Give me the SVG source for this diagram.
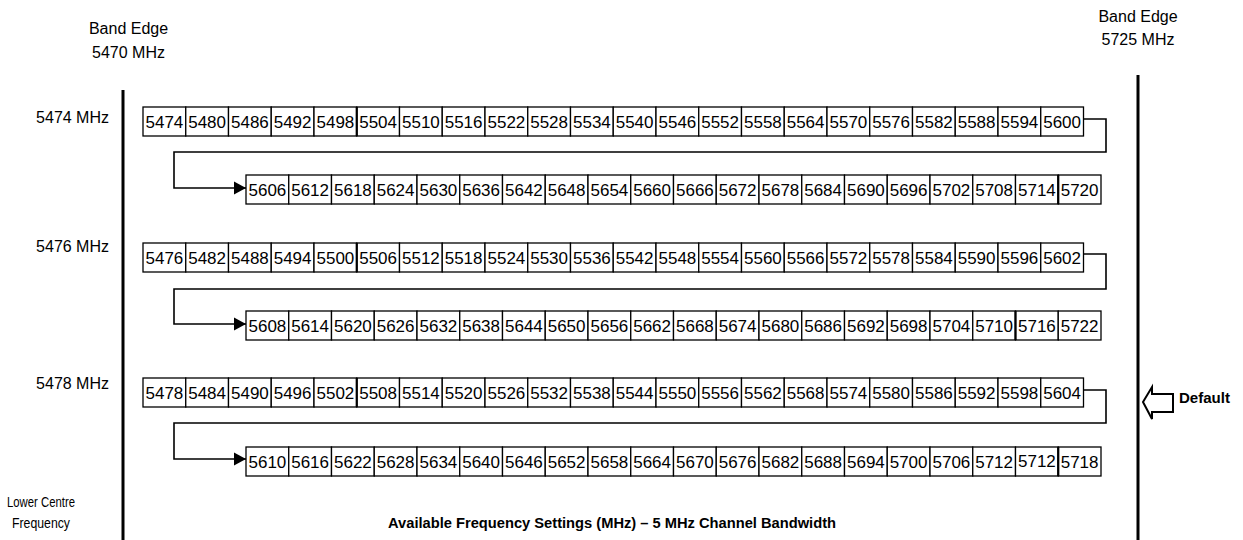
<svg xmlns="http://www.w3.org/2000/svg" width="1243" height="540" viewBox="0 0 1243 540">
<style>
text{font-family:"Liberation Sans",Arial,sans-serif;fill:#000}
.lbl{font-size:16px;text-anchor:middle}
.side{font-size:16px;text-anchor:end}
.c rect{fill:#fff;stroke:#000;stroke-width:1.3}
.c text{font-size:17px;text-anchor:middle}
.seam{stroke:#000;stroke-width:2.2}
.edge{stroke:#000;stroke-width:3}
.conn{fill:none;stroke:#000;stroke-width:1.6}
.bold{font-weight:bold}
</style>
<defs>
<marker id="ah" markerUnits="userSpaceOnUse" markerWidth="13" markerHeight="14" refX="12" refY="6.5" orient="auto" viewBox="0 0 13 13">
<path d="M0,0 L12,6.5 L0,13 z" fill="#000"/>
</marker>
</defs>
<rect width="1243" height="540" fill="#fff"/>

<g id="band-edges">
<line class="edge" x1="123" y1="90" x2="123" y2="540"/>
<line class="edge" x1="1138" y1="75" x2="1138" y2="540"/>
<text class="lbl" x="128.5" y="34">Band Edge</text>
<text class="lbl" x="128.5" y="58">5470 MHz</text>
<text class="lbl" x="1138" y="22">Band Edge</text>
<text class="lbl" x="1138" y="45">5725 MHz</text>
</g>

<g id="labels">
<text class="side" x="109" y="123">5474 MHz</text>
<text class="side" x="109" y="252">5476 MHz</text>
<text class="side" x="109" y="389">5478 MHz</text>
<text x="7" y="507" font-size="15" textLength="68" lengthAdjust="spacingAndGlyphs">Lower Centre</text>
<text x="12" y="528" font-size="15" textLength="58" lengthAdjust="spacingAndGlyphs">Frequency</text>
<text class="bold" x="388" y="528" font-size="14" textLength="448" lengthAdjust="spacingAndGlyphs">Available Frequency Settings (MHz) – 5 MHz Channel Bandwidth</text>
</g>

<g id="row-5474" class="c" transform="translate(143,107)">
<rect x="0" width="42.75" height="29"/><text x="21.4" y="21">5474</text>
<rect x="42.75" width="42.75" height="29"/><text x="64.1" y="21">5480</text>
<rect x="85.5" width="42.75" height="29"/><text x="106.9" y="21">5486</text>
<rect x="128.25" width="42.75" height="29"/><text x="149.6" y="21">5492</text>
<rect x="171" width="42.75" height="29"/><text x="192.4" y="21">5498</text>
<rect x="213.75" width="42.75" height="29"/><text x="235.1" y="21">5504</text>
<rect x="256.5" width="42.75" height="29"/><text x="277.9" y="21">5510</text>
<rect x="299.25" width="42.75" height="29"/><text x="320.6" y="21">5516</text>
<rect x="342" width="42.75" height="29"/><text x="363.4" y="21">5522</text>
<rect x="384.75" width="42.75" height="29"/><text x="406.1" y="21">5528</text>
<rect x="427.5" width="42.75" height="29"/><text x="448.9" y="21">5534</text>
<rect x="470.25" width="42.75" height="29"/><text x="491.6" y="21">5540</text>
<rect x="513" width="42.75" height="29"/><text x="534.4" y="21">5546</text>
<rect x="555.75" width="42.75" height="29"/><text x="577.1" y="21">5552</text>
<rect x="598.5" width="42.75" height="29"/><text x="619.9" y="21">5558</text>
<rect x="641.25" width="42.75" height="29"/><text x="662.6" y="21">5564</text>
<rect x="684" width="42.75" height="29"/><text x="705.4" y="21">5570</text>
<rect x="726.75" width="42.75" height="29"/><text x="748.1" y="21">5576</text>
<rect x="769.5" width="42.75" height="29"/><text x="790.9" y="21">5582</text>
<rect x="812.25" width="42.75" height="29"/><text x="833.6" y="21">5588</text>
<rect x="855" width="42.75" height="29"/><text x="876.4" y="21">5594</text>
<rect x="897.75" width="42.75" height="29"/><text x="919.1" y="21">5600</text>
<line class="seam" x1="213.75" y1="0" x2="213.75" y2="29"/>
</g>

<g id="row-5606" class="c" transform="translate(246,175)">
<rect x="0" width="42.75" height="29"/><text x="21.4" y="21">5606</text>
<rect x="42.75" width="42.75" height="29"/><text x="64.1" y="21">5612</text>
<rect x="85.5" width="42.75" height="29"/><text x="106.9" y="21">5618</text>
<rect x="128.25" width="42.75" height="29"/><text x="149.6" y="21">5624</text>
<rect x="171" width="42.75" height="29"/><text x="192.4" y="21">5630</text>
<rect x="213.75" width="42.75" height="29"/><text x="235.1" y="21">5636</text>
<rect x="256.5" width="42.75" height="29"/><text x="277.9" y="21">5642</text>
<rect x="299.25" width="42.75" height="29"/><text x="320.6" y="21">5648</text>
<rect x="342" width="42.75" height="29"/><text x="363.4" y="21">5654</text>
<rect x="384.75" width="42.75" height="29"/><text x="406.1" y="21">5660</text>
<rect x="427.5" width="42.75" height="29"/><text x="448.9" y="21">5666</text>
<rect x="470.25" width="42.75" height="29"/><text x="491.6" y="21">5672</text>
<rect x="513" width="42.75" height="29"/><text x="534.4" y="21">5678</text>
<rect x="555.75" width="42.75" height="29"/><text x="577.1" y="21">5684</text>
<rect x="598.5" width="42.75" height="29"/><text x="619.9" y="21">5690</text>
<rect x="641.25" width="42.75" height="29"/><text x="662.6" y="21">5696</text>
<rect x="684" width="42.75" height="29"/><text x="705.4" y="21">5702</text>
<rect x="726.75" width="42.75" height="29"/><text x="748.1" y="21">5708</text>
<rect x="769.5" width="42.75" height="29"/><text x="790.9" y="21">5714</text>
<rect x="812.25" width="42.75" height="29"/><text x="833.6" y="21">5720</text>
<line class="seam" x1="812.25" y1="0" x2="812.25" y2="29"/>
</g>

<g id="row-5476" class="c" transform="translate(143,243)">
<rect x="0" width="42.75" height="29"/><text x="21.4" y="21">5476</text>
<rect x="42.75" width="42.75" height="29"/><text x="64.1" y="21">5482</text>
<rect x="85.5" width="42.75" height="29"/><text x="106.9" y="21">5488</text>
<rect x="128.25" width="42.75" height="29"/><text x="149.6" y="21">5494</text>
<rect x="171" width="42.75" height="29"/><text x="192.4" y="21">5500</text>
<rect x="213.75" width="42.75" height="29"/><text x="235.1" y="21">5506</text>
<rect x="256.5" width="42.75" height="29"/><text x="277.9" y="21">5512</text>
<rect x="299.25" width="42.75" height="29"/><text x="320.6" y="21">5518</text>
<rect x="342" width="42.75" height="29"/><text x="363.4" y="21">5524</text>
<rect x="384.75" width="42.75" height="29"/><text x="406.1" y="21">5530</text>
<rect x="427.5" width="42.75" height="29"/><text x="448.9" y="21">5536</text>
<rect x="470.25" width="42.75" height="29"/><text x="491.6" y="21">5542</text>
<rect x="513" width="42.75" height="29"/><text x="534.4" y="21">5548</text>
<rect x="555.75" width="42.75" height="29"/><text x="577.1" y="21">5554</text>
<rect x="598.5" width="42.75" height="29"/><text x="619.9" y="21">5560</text>
<rect x="641.25" width="42.75" height="29"/><text x="662.6" y="21">5566</text>
<rect x="684" width="42.75" height="29"/><text x="705.4" y="21">5572</text>
<rect x="726.75" width="42.75" height="29"/><text x="748.1" y="21">5578</text>
<rect x="769.5" width="42.75" height="29"/><text x="790.9" y="21">5584</text>
<rect x="812.25" width="42.75" height="29"/><text x="833.6" y="21">5590</text>
<rect x="855" width="42.75" height="29"/><text x="876.4" y="21">5596</text>
<rect x="897.75" width="42.75" height="29"/><text x="919.1" y="21">5602</text>
<line class="seam" x1="213.75" y1="0" x2="213.75" y2="29"/>
</g>

<g id="row-5608" class="c" transform="translate(246,311)">
<rect x="0" width="42.75" height="29"/><text x="21.4" y="21">5608</text>
<rect x="42.75" width="42.75" height="29"/><text x="64.1" y="21">5614</text>
<rect x="85.5" width="42.75" height="29"/><text x="106.9" y="21">5620</text>
<rect x="128.25" width="42.75" height="29"/><text x="149.6" y="21">5626</text>
<rect x="171" width="42.75" height="29"/><text x="192.4" y="21">5632</text>
<rect x="213.75" width="42.75" height="29"/><text x="235.1" y="21">5638</text>
<rect x="256.5" width="42.75" height="29"/><text x="277.9" y="21">5644</text>
<rect x="299.25" width="42.75" height="29"/><text x="320.6" y="21">5650</text>
<rect x="342" width="42.75" height="29"/><text x="363.4" y="21">5656</text>
<rect x="384.75" width="42.75" height="29"/><text x="406.1" y="21">5662</text>
<rect x="427.5" width="42.75" height="29"/><text x="448.9" y="21">5668</text>
<rect x="470.25" width="42.75" height="29"/><text x="491.6" y="21">5674</text>
<rect x="513" width="42.75" height="29"/><text x="534.4" y="21">5680</text>
<rect x="555.75" width="42.75" height="29"/><text x="577.1" y="21">5686</text>
<rect x="598.5" width="42.75" height="29"/><text x="619.9" y="21">5692</text>
<rect x="641.25" width="42.75" height="29"/><text x="662.6" y="21">5698</text>
<rect x="684" width="42.75" height="29"/><text x="705.4" y="21">5704</text>
<rect x="726.75" width="42.75" height="29"/><text x="748.1" y="21">5710</text>
<rect x="769.5" width="42.75" height="29"/><text x="790.9" y="21">5716</text>
<rect x="812.25" width="42.75" height="29"/><text x="833.6" y="21">5722</text>
<line class="seam" x1="769.5" y1="0" x2="769.5" y2="29"/>
</g>

<g id="row-5478" class="c" transform="translate(143,378)">
<rect x="0" width="42.75" height="29"/><text x="21.4" y="21">5478</text>
<rect x="42.75" width="42.75" height="29"/><text x="64.1" y="21">5484</text>
<rect x="85.5" width="42.75" height="29"/><text x="106.9" y="21">5490</text>
<rect x="128.25" width="42.75" height="29"/><text x="149.6" y="21">5496</text>
<rect x="171" width="42.75" height="29"/><text x="192.4" y="21">5502</text>
<rect x="213.75" width="42.75" height="29"/><text x="235.1" y="21">5508</text>
<rect x="256.5" width="42.75" height="29"/><text x="277.9" y="21">5514</text>
<rect x="299.25" width="42.75" height="29"/><text x="320.6" y="21">5520</text>
<rect x="342" width="42.75" height="29"/><text x="363.4" y="21">5526</text>
<rect x="384.75" width="42.75" height="29"/><text x="406.1" y="21">5532</text>
<rect x="427.5" width="42.75" height="29"/><text x="448.9" y="21">5538</text>
<rect x="470.25" width="42.75" height="29"/><text x="491.6" y="21">5544</text>
<rect x="513" width="42.75" height="29"/><text x="534.4" y="21">5550</text>
<rect x="555.75" width="42.75" height="29"/><text x="577.1" y="21">5556</text>
<rect x="598.5" width="42.75" height="29"/><text x="619.9" y="21">5562</text>
<rect x="641.25" width="42.75" height="29"/><text x="662.6" y="21">5568</text>
<rect x="684" width="42.75" height="29"/><text x="705.4" y="21">5574</text>
<rect x="726.75" width="42.75" height="29"/><text x="748.1" y="21">5580</text>
<rect x="769.5" width="42.75" height="29"/><text x="790.9" y="21">5586</text>
<rect x="812.25" width="42.75" height="29"/><text x="833.6" y="21">5592</text>
<rect x="855" width="42.75" height="29"/><text x="876.4" y="21">5598</text>
<rect x="897.75" width="42.75" height="29"/><text x="919.1" y="21">5604</text>
<line class="seam" x1="213.75" y1="0" x2="213.75" y2="29"/>
</g>

<g id="row-5610" class="c" transform="translate(246,447)">
<rect x="0" width="42.75" height="29"/><text x="21.4" y="21">5610</text>
<rect x="42.75" width="42.75" height="29"/><text x="64.1" y="21">5616</text>
<rect x="85.5" width="42.75" height="29"/><text x="106.9" y="21">5622</text>
<rect x="128.25" width="42.75" height="29"/><text x="149.6" y="21">5628</text>
<rect x="171" width="42.75" height="29"/><text x="192.4" y="21">5634</text>
<rect x="213.75" width="42.75" height="29"/><text x="235.1" y="21">5640</text>
<rect x="256.5" width="42.75" height="29"/><text x="277.9" y="21">5646</text>
<rect x="299.25" width="42.75" height="29"/><text x="320.6" y="21">5652</text>
<rect x="342" width="42.75" height="29"/><text x="363.4" y="21">5658</text>
<rect x="384.75" width="42.75" height="29"/><text x="406.1" y="21">5664</text>
<rect x="427.5" width="42.75" height="29"/><text x="448.9" y="21">5670</text>
<rect x="470.25" width="42.75" height="29"/><text x="491.6" y="21">5676</text>
<rect x="513" width="42.75" height="29"/><text x="534.4" y="21">5682</text>
<rect x="555.75" width="42.75" height="29"/><text x="577.1" y="21">5688</text>
<rect x="598.5" width="42.75" height="29"/><text x="619.9" y="21">5694</text>
<rect x="641.25" width="42.75" height="29"/><text x="662.6" y="21">5700</text>
<rect x="684" width="42.75" height="29"/><text x="705.4" y="21">5706</text>
<rect x="726.75" width="42.75" height="29"/><text x="748.1" y="21">5712</text>
<rect x="769.5" width="42.75" height="29"/><text x="790.9" y="20">5712</text>
<rect x="812.25" width="42.75" height="29"/><text x="833.6" y="21">5718</text>
<line class="seam" x1="812.25" y1="0" x2="812.25" y2="29"/>
</g>

<g id="connectors">
<path class="conn" d="M1083.75,119 H1106 V152 H174 V188 H246" marker-end="url(#ah)"/>
<path class="conn" d="M1083.75,254 H1106 V289 H174 V324 H246" marker-end="url(#ah)"/>
<path class="conn" d="M1083.75,390 H1106 V423 H174 V459 H246" marker-end="url(#ah)"/>
</g>

<g id="default">
<polygon points="1143,402 1152,387 1152,394 1173,394 1173,412 1152,412 1152,419" fill="#fff" stroke="#000" stroke-width="2" stroke-linejoin="miter"/>
<text class="bold" x="1179" y="403" font-size="14" textLength="51" lengthAdjust="spacingAndGlyphs">Default</text>
</g>
</svg>
